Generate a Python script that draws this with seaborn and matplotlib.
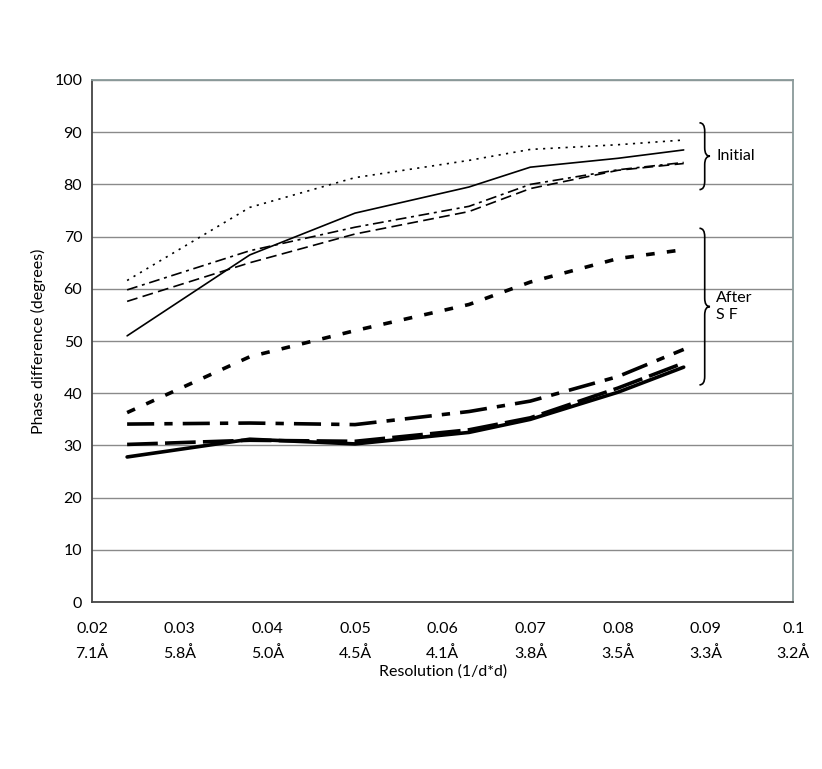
import numpy as np
import pandas as pd
import matplotlib
matplotlib.use("Agg")
import matplotlib.pyplot as plt
import seaborn as sns
from matplotlib.path import Path
from matplotlib.patches import PathPatch

# data
resolution = [0.024, 0.038, 0.050, 0.063, 0.070, 0.080, 0.0875]
x_ticks = [0.02, 0.03, 0.04, 0.05, 0.06, 0.07, 0.08, 0.09, 0.1]
x_tick_labels = ["0.02\n7.1Å", "0.03\n5.8Å", "0.04\n5.0Å", "0.05\n4.5Å", "0.06\n4.1Å",
                 "0.07\n3.8Å", "0.08\n3.5Å", "0.09\n3.3Å", "0.1\n3.2Å"]

initial_dotted = [61.6, 75.6, 81.3, 84.6, 86.7, 87.6, 88.5]
initial_solid = [51.0, 66.5, 74.5, 79.5, 83.3, 85.0, 86.6]
initial_dashdot = [59.8, 67.3, 71.8, 75.8, 80.0, 82.8, 84.2]
initial_dashed = [57.6, 65.0, 70.5, 74.8, 79.2, 82.7, 84.0]

sf_dotted = [36.3, 47.0, 52.0, 57.0, 61.3, 65.8, 67.5]
sf_dashdot = [34.1, 34.3, 34.0, 36.5, 38.5, 43.2, 48.4]
sf_dashed = [30.2, 31.0, 30.8, 33.0, 35.3, 41.0, 45.8]
sf_solid = [27.8, 31.2, 30.3, 32.5, 35.0, 40.2, 45.0]

sns.set_style("white")
plt.rcParams["font.family"] = ["Lato", "DejaVu Sans"]
plt.rcParams["text.color"] = "black"
plt.rcParams["axes.labelcolor"] = "black"
plt.rcParams["xtick.color"] = "black"
plt.rcParams["ytick.color"] = "black"

fig = plt.figure(figsize=(8.22, 7.69), dpi=100)
ax = fig.add_axes([0.112, 0.217, 0.853, 0.679])

series = [
    (initial_dotted, 1.2, (0, (1.3, 3.2))),
    (initial_solid, 1.2, "-"),
    (initial_dashdot, 1.2, (0, (6.5, 2.8, 1.8, 2.8))),
    (initial_dashed, 1.2, (0, (6.5, 3.2))),
    (sf_dotted, 2.6, (0, (2.4, 3.4))),
    (sf_dashdot, 2.6, (0, (7.5, 2.8, 2.3, 2.8))),
    (sf_dashed, 2.6, (0, (8.5, 2.0))),
    (sf_solid, 2.6, "-"),
]
for vals, lw, ls in series:
    sns.lineplot(x=resolution, y=vals, ax=ax, color="black", linewidth=lw,
                 linestyle=ls, zorder=3)

ax.set_xlim(0.02, 0.1)
ax.set_ylim(0, 100)
ax.set_yticks(range(0, 101, 10))
ax.set_xticks(x_ticks)
ax.set_xticklabels(x_tick_labels, linespacing=1.9)
ax.yaxis.grid(True, color="#8a8a8a", linewidth=1.0)
ax.xaxis.grid(False)
ax.tick_params(axis="both", direction="out", length=4, width=1, color="#555555",
               labelsize=11.5, pad=3)
ax.tick_params(axis="x", pad=10)
for side in ["left", "bottom"]:
    ax.spines[side].set_color("#444444")
    ax.spines[side].set_linewidth(1.3)
for side in ["top", "right"]:
    ax.spines[side].set_color("#8a9a9a")
    ax.spines[side].set_linewidth(1.3)

ax.set_ylabel("Phase difference (degrees)", fontsize=11.5, labelpad=6)
ax.set_xlabel("Resolution (1/d*d)", fontsize=11.5, labelpad=2)


def brace(ax, x0, y_top, y_bot, w, c=1.6):
    # right-pointing curly brace made of quadratic curves
    ym = (y_top + y_bot) / 2
    pts = [(x0, y_top),
           (x0 + w, y_top), (x0 + w, y_top - c),
           (x0 + w, ym + c),
           (x0 + w, ym), (x0 + 2 * w, ym),
           (x0 + w, ym), (x0 + w, ym - c),
           (x0 + w, y_bot + c),
           (x0 + w, y_bot), (x0, y_bot)]
    codes = [Path.MOVETO,
             Path.CURVE3, Path.CURVE3,
             Path.LINETO,
             Path.CURVE3, Path.CURVE3,
             Path.CURVE3, Path.CURVE3,
             Path.LINETO,
             Path.CURVE3, Path.CURVE3]
    ax.add_patch(PathPatch(Path(pts, codes), fill=False, edgecolor="black",
                           linewidth=1.2, zorder=4))


brace(ax, 0.0893, 91.8, 79.0, 0.0006)
brace(ax, 0.0893, 71.6, 41.6, 0.0006)
ax.text(0.0912, 85.4, "Initial", fontsize=11.5, va="center", ha="left")
ax.text(0.0912, 56.6, "After\nS F", fontsize=11.5, va="center", ha="left", linespacing=1.3)

fig.savefig("out.png", dpi=100)
